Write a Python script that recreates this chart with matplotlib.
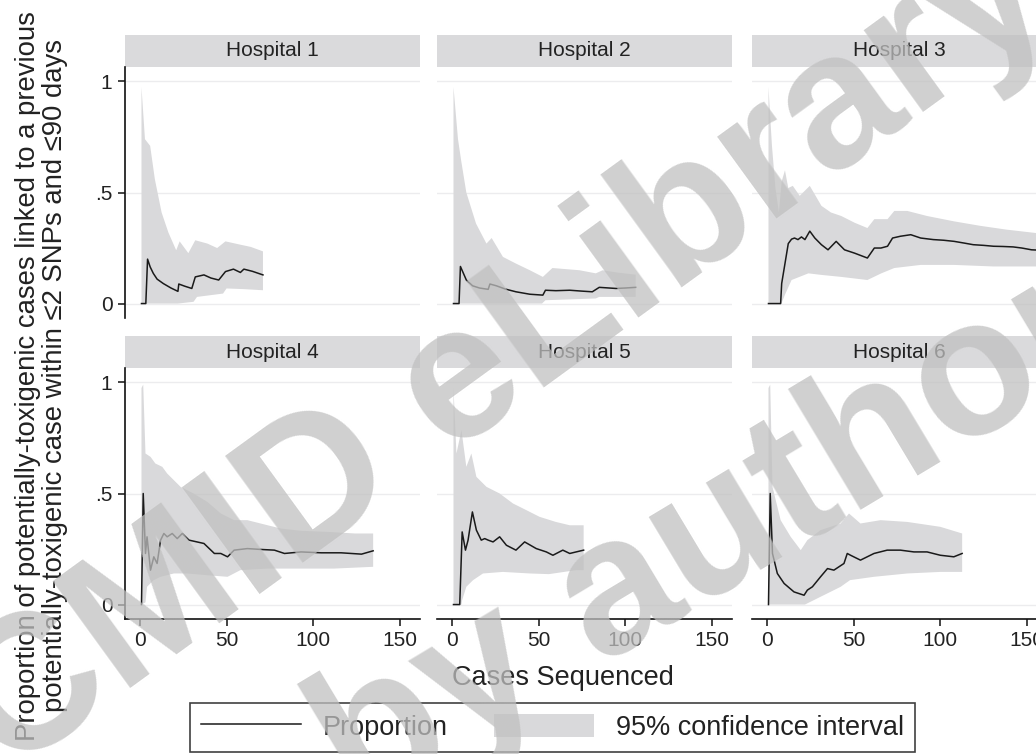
import numpy as np
import matplotlib
matplotlib.use("Agg")
import matplotlib.pyplot as plt
from matplotlib.lines import Line2D
from matplotlib.patches import Patch, Rectangle

plt.rcParams['font.family'] = ['Liberation Sans', 'DejaVu Sans']

hospitals = ["Hospital 1", "Hospital 2", "Hospital 3",
             "Hospital 4", "Hospital 5", "Hospital 6"]

# proportion line (cases sequenced, proportion)
h1_x = [1, 3.5, 4.5, 6, 7.8, 10, 13.6, 18, 22, 22.5, 26, 30, 32, 37, 41, 45.5, 49.4, 54, 58, 60, 65, 71]
h1_p = [0, 0, 0.2, 0.165, 0.136, 0.11, 0.09, 0.07, 0.055, 0.088, 0.078, 0.068, 0.12, 0.129, 0.115, 0.106,
        0.144, 0.155, 0.14, 0.155, 0.145, 0.129]
h2_x = [1, 4.2, 5, 8.4, 12, 16, 21, 22, 25.7, 31, 37, 45, 52.5, 54, 60, 68, 75, 81, 85, 94.6, 100, 106]
h2_p = [0, 0, 0.167, 0.106, 0.08, 0.07, 0.064, 0.088, 0.08, 0.065, 0.053, 0.042, 0.038, 0.06, 0.058, 0.06,
        0.056, 0.053, 0.073, 0.068, 0.07, 0.073]
h3_x = [1, 8, 8.6, 10.5, 12.4, 14.3, 16, 18, 20, 22, 24.8, 27.7, 31.5, 35.3, 40, 44.8, 50.6, 58, 62, 65.8,
        69.6, 72.5, 77, 83, 88.7, 96, 102, 108, 114, 119, 125, 130.7, 136, 142, 147, 152.6, 158]
h3_p = [0, 0, 0.09, 0.18, 0.27, 0.29, 0.295, 0.288, 0.3, 0.288, 0.326, 0.295, 0.265, 0.242, 0.28, 0.242,
        0.227, 0.205, 0.25, 0.25, 0.258, 0.295, 0.303, 0.31, 0.295, 0.288, 0.285, 0.28, 0.272, 0.265, 0.262,
        0.258, 0.257, 0.255, 0.25, 0.242, 0.24]
h4_x = [1, 2, 3.3, 4.2, 6.2, 8.1, 10, 12, 13.9, 15.8, 18.7, 21.6, 24.5, 28.4, 33, 37, 43, 46.7, 50.6, 54.4,
        62, 70, 77.6, 83.4, 93, 104.6, 116, 127.8, 134.5]
h4_p = [0, 0.5, 0.23, 0.305, 0.155, 0.215, 0.185, 0.29, 0.32, 0.305, 0.32, 0.297, 0.32, 0.29, 0.282, 0.275,
        0.23, 0.23, 0.215, 0.245, 0.252, 0.248, 0.245, 0.23, 0.237, 0.233, 0.233, 0.227, 0.242]
h5_x = [1, 4.6, 6, 7.9, 9.4, 11.9, 14.2, 17, 19, 21, 23.8, 27.6, 31.5, 37, 42, 48.7, 54.5, 58.3, 64, 68, 71.7, 76]
h5_p = [0, 0, 0.327, 0.245, 0.29, 0.417, 0.335, 0.29, 0.297, 0.29, 0.282, 0.305, 0.267, 0.245, 0.282, 0.252,
        0.237, 0.222, 0.245, 0.23, 0.237, 0.245]
h6_x = [1, 2, 3.3, 6.1, 10, 15.7, 21.5, 23.4, 26.3, 31, 35, 38.7, 41.6, 44.5, 46.4, 48.3, 54, 61.8, 69.4, 77,
        84.8, 92.4, 100, 107.8, 112.6]
h6_p = [0, 0.5, 0.23, 0.14, 0.095, 0.057, 0.042, 0.065, 0.08, 0.125, 0.162, 0.155, 0.17, 0.185, 0.23, 0.222,
        0.2, 0.23, 0.245, 0.245, 0.237, 0.237, 0.222, 0.215, 0.23]

# 95% CI upper bound
h1_ux = [1, 3, 6, 8.7, 12.6, 16.5, 21, 23, 28, 32, 39, 44.6, 49.4, 58, 64, 71]
h1_u = [0.975, 0.74, 0.71, 0.56, 0.41, 0.32, 0.24, 0.28, 0.227, 0.285, 0.27, 0.25, 0.28, 0.265, 0.255, 0.235]
h2_ux = [1, 3.6, 5.5, 8.4, 14, 20, 23, 29.5, 37, 45, 52.5, 58, 73.6, 83, 87, 95, 106]
h2_u = [0.975, 0.74, 0.64, 0.5, 0.36, 0.27, 0.295, 0.21, 0.18, 0.15, 0.12, 0.16, 0.15, 0.136, 0.15, 0.14, 0.13]
h3_ux = [1, 2, 3, 5, 7, 8.6, 10.5, 12.4, 15, 19, 24.8, 31.5, 37, 43, 50.6, 58, 62, 69.6, 73.5, 81, 92.5,
         108, 123, 138, 158]
h3_u = [0.975, 0.84, 0.71, 0.52, 0.41, 0.55, 0.6, 0.52, 0.53, 0.485, 0.53, 0.44, 0.41, 0.394, 0.364, 0.34,
        0.38, 0.38, 0.417, 0.417, 0.394, 0.37, 0.35, 0.333, 0.315]
h4_ux = [1, 2, 3.3, 6.2, 9, 13, 15.8, 23.5, 31, 39, 46.7, 54.4, 62, 73.7, 81.4, 93, 108.5, 124, 134.5]
h4_u = [0.975, 0.99, 0.68, 0.665, 0.635, 0.62, 0.59, 0.53, 0.5, 0.462, 0.41, 0.38, 0.38, 0.357, 0.342, 0.332,
        0.327, 0.32, 0.32]
h5_ux = [1, 2.7, 5.6, 8.4, 11.3, 14.2, 20, 27.6, 35.3, 43, 50.6, 60, 68, 76]
h5_u = [0.975, 0.68, 0.785, 0.62, 0.68, 0.575, 0.53, 0.5, 0.455, 0.425, 0.395, 0.372, 0.357, 0.357]
h6_ux = [1, 2, 3.3, 8, 13.8, 19.6, 23.4, 31, 42.6, 47.4, 54, 65.6, 81, 100, 112.6]
h6_u = [0.975, 0.99, 0.53, 0.38, 0.305, 0.245, 0.29, 0.335, 0.365, 0.41, 0.365, 0.38, 0.372, 0.35, 0.32]

# 95% CI lower bound
h1_lx = [1, 22, 31, 33, 48, 50, 60, 71]
h1_l = [0, 0, 0.008, 0.03, 0.045, 0.068, 0.065, 0.06]
h2_lx = [1, 52, 54, 83, 85, 106]
h2_l = [0, 0, 0.015, 0.023, 0.03, 0.03]
h3_lx = [1, 8, 8.6, 10.5, 14.3, 24, 31.5, 43, 58, 66, 73.5, 88.7, 108, 130.7, 158]
h3_l = [0, 0, 0.003, 0.04, 0.106, 0.136, 0.129, 0.12, 0.106, 0.136, 0.16, 0.174, 0.174, 0.167, 0.167]
h4_lx = [1, 3.3, 4.2, 8, 12, 19.7, 27.4, 39, 50.6, 58, 73.7, 93, 112, 134.5]
h4_l = [0, 0.01, 0.08, 0.11, 0.125, 0.14, 0.14, 0.132, 0.125, 0.155, 0.162, 0.162, 0.162, 0.17]
h5_lx = [1, 5.6, 6, 8.4, 12.3, 18, 29.5, 45, 56, 71.7, 76]
h5_l = [0, 0, 0.02, 0.08, 0.11, 0.14, 0.147, 0.14, 0.137, 0.155, 0.155]
h6_lx = [1, 22, 31, 42.6, 48, 61.8, 81, 100, 112.6]
h6_l = [0, 0, 0.035, 0.08, 0.11, 0.125, 0.14, 0.147, 0.147]

line_x = [h1_x, h2_x, h3_x, h4_x, h5_x, h6_x]
line_p = [h1_p, h2_p, h3_p, h4_p, h5_p, h6_p]
up_x = [h1_ux, h2_ux, h3_ux, h4_ux, h5_ux, h6_ux]
up_y = [h1_u, h2_u, h3_u, h4_u, h5_u, h6_u]
lo_x = [h1_lx, h2_lx, h3_lx, h4_lx, h5_lx, h6_lx]
lo_y = [h1_l, h2_l, h3_l, h4_l, h5_l, h6_l]

x_ticks = [0, 50, 100, 150]
y_ticks = [0, 0.5, 1]
y_ticklabels = ["0", ".5", "1"]

W, H = 1036, 754
band_col = "#d9d9db"
strip_col = "#dadadc"
txt_col = "#222222"

fig = plt.figure(figsize=(W / 100, H / 100), dpi=100)

col_left = [125, 437, 752]
row_top = [67, 368]
ax_w, ax_h = 295, 251
strip_h = 32

for i, name in enumerate(hospitals):
    r, c = divmod(i, 3)
    left = col_left[c] / W
    bottom = (H - row_top[r] - ax_h) / H
    ax = fig.add_axes([left, bottom, ax_w / W, ax_h / H])
    ax.set_xlim(-8.5, 161.5)
    ax.set_ylim(-0.065, 1.065)

    for yv in y_ticks:
        ax.axhline(yv, color="#ececee", lw=1.0, zorder=0)

    bx = np.r_[up_x[i], lo_x[i][::-1]]
    by = np.r_[up_y[i], lo_y[i][::-1]]
    ax.fill(bx, by, color=band_col, lw=0, zorder=1)
    ax.plot(line_x[i], line_p[i], color="#1a1a1a", lw=1.1, zorder=2)

    # title strip
    ax.add_patch(Rectangle((0, 1), 1, strip_h / ax_h, transform=ax.transAxes,
                           facecolor=strip_col, edgecolor="none", clip_on=False))
    ax.text(0.5, 1 + strip_h / ax_h / 2, name, transform=ax.transAxes,
            ha="center", va="center", fontsize=15, color=txt_col)

    for s in ["top", "right"]:
        ax.spines[s].set_visible(False)
    ax.spines["left"].set_visible(c == 0)
    ax.spines["bottom"].set_visible(r == 1)
    for s in ["left", "bottom"]:
        ax.spines[s].set_linewidth(1.2)
        ax.spines[s].set_color("#111111")

    ax.set_xticks(x_ticks)
    ax.set_yticks(y_ticks)
    ax.set_yticklabels(y_ticklabels)
    ax.tick_params(axis="both", labelsize=15, labelcolor=txt_col, length=5,
                   width=1.1, color="#111111", pad=4)
    if c != 0:
        ax.tick_params(axis="y", left=False, labelleft=False)
    if r != 1:
        ax.tick_params(axis="x", bottom=False, labelbottom=False)

fig.text(563 / W, 1 - 678 / H, "Cases Sequenced", ha="center", va="center",
         fontsize=19.5, color=txt_col)
fig.text(42 / W, 1 - 376 / H,
         "Proportion of potentially-toxigenic cases linked to a previous\n"
         "potentially-toxigenic case within \u22642 SNPs and \u226490 days",
         rotation=90, ha="center", va="center", multialignment="center",
         fontsize=19.8, color=txt_col, linespacing=1.05)

handles = [Line2D([], [], color="#1a1a1a", lw=1.1),
           Patch(facecolor=band_col, edgecolor="none")]
leg = fig.legend(handles, ["Proportion", "95% confidence interval"], ncol=2,
                 loc="upper left", bbox_to_anchor=(190 / W, 1 - 703 / H),
                 fontsize=19.5, frameon=True, fancybox=False, borderpad=0.4,
                 handlelength=3.7, handleheight=0.95, handletextpad=0.8,
                 columnspacing=1.7, borderaxespad=0)
leg.get_frame().set_edgecolor("#111111")
leg.get_frame().set_linewidth(1.2)
for t in leg.get_texts():
    t.set_color(txt_col)

# watermark
fig.text(505 / W, 1 - 355 / H, "CMID eLibrary", rotation=36, rotation_mode="anchor",
         ha="center", va="center", fontsize=138, fontweight="bold",
         color="#c0c0c0", alpha=0.75, zorder=10)
fig.text(712 / W, 1 - 540 / H, "by author", rotation=31, rotation_mode="anchor",
         ha="center", va="center", fontsize=140, fontweight="bold",
         color="#c0c0c0", alpha=0.75, zorder=10)

fig.savefig("out.png", dpi=100)
